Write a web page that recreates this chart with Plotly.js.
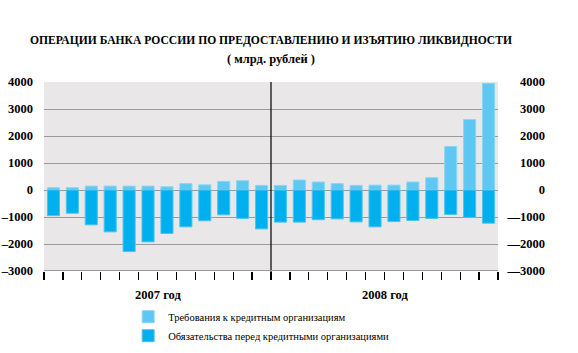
<!DOCTYPE html>
<html>
<head>
<meta charset="utf-8">
<script src="https://cdn.plot.ly/plotly-3.0.1.min.js"></script>
<style>html,body{margin:0;padding:0;background:#fff;}#chart{width:578px;height:353px;}</style>
</head>
<body>
<div id="chart"></div>
<script>
// Months: 2007 (12) + 2008 (12)
var periods = ["2007-01","2007-02","2007-03","2007-04","2007-05","2007-06","2007-07","2007-08","2007-09","2007-10","2007-11","2007-12",
               "2008-01","2008-02","2008-03","2008-04","2008-05","2008-06","2008-07","2008-08","2008-09","2008-10","2008-11","2008-12"];
// Требования к кредитным организациям (млрд. рублей)
var claims = [85, 85, 145, 145, 145, 145, 120, 235, 190, 320, 345, 170,
              170, 370, 295, 235, 170, 180, 180, 295, 455, 1610, 2610, 3950];
// Обязательства перед кредитными организациями (млрд. рублей)
var liabilities = [-950, -860, -1290, -1550, -2280, -1920, -1610, -1365, -1140, -920, -1050, -1440,
                   -1190, -1190, -1100, -1070, -1180, -1365, -1170, -1130, -1055, -905, -1020, -1230];
var yearLabels = ["2007 год", "2008 год"];
var yearCenters = [5.5, 17.5];
var yTickVals = [4000, 3000, 2000, 1000, 0, -1000, -2000, -3000];
var yTickTextLeft = ["4000", "3000", "2000", "1000", "0", "\u20131000", "\u20132000", "\u20133000"];
var yTickTextRight = ["4000", "3000", "2000", "1000", "0", "\u20141000", "\u20142000", "\u20143000"];
var seriesNames = ["Требования к кредитным организациям", "Обязательства перед кредитными организациями"];
var titleText = "ОПЕРАЦИИ БАНКА РОССИИ ПО ПРЕДОСТАВЛЕНИЮ И ИЗЪЯТИЮ ЛИКВИДНОСТИ";
var subtitleText = "( млрд. рублей )";

var idx = periods.map(function(p, i){ return i; });
var boundaries = [];
for (var b = 0; b <= periods.length; b++) boundaries.push(b - 0.5);
function bold(t){ return "<b>" + t + "</b>"; }

var serif = "'Liberation Serif', 'DejaVu Serif', serif";
var plotFrac = 454 / 504;

var traces = [
  {type: "bar", x: idx, y: claims, name: seriesNames[0], width: 0.64,
   marker: {color: "#5ec8f2", line: {color: "#8ad6f5", width: 1}}, hoverinfo: "y"},
  {type: "bar", x: idx, y: liabilities, name: seriesNames[1], width: 0.64,
   marker: {color: "#00b0ee", line: {color: "#4cc4f2", width: 1}}, hoverinfo: "y"},
  {type: "scatter", x: [0], y: [0], yaxis: "y2", mode: "markers", marker: {opacity: 0}, showlegend: false, hoverinfo: "skip"}
];

var annotations = yearLabels.map(function(t, i){
  return {text: bold(t), x: yearCenters[i], xref: "x", y: -0.177, yref: "paper",
          showarrow: false, font: {family: serif, size: 12.5, color: "#000"}};
});
annotations.push({text: bold(subtitleText), x: (271 - 44) / 504, xref: "paper", xanchor: "center",
  y: 1.122, yref: "paper", yanchor: "middle", showarrow: false, font: {family: serif, size: 12.5, color: "#000"}});

var layout = {
  width: 578, height: 353,
  margin: {l: 44, r: 30, t: 82, b: 82, autoexpand: false},
  paper_bgcolor: "#ffffff",
  plot_bgcolor: "#e9e7e7",
  barmode: "relative",
  showlegend: true,
  title: {text: bold(titleText),
          x: 271 / 578, xanchor: "center", y: 1 - 40 / 353, yanchor: "middle",
          font: {family: serif, size: 11.6, color: "#000"}},
  legend: {x: 0.167, xanchor: "left", y: -0.165, yanchor: "top", bgcolor: "rgba(0,0,0,0)",
           font: {family: serif, size: 10.5, color: "#000"}, tracegroupgap: 0, itemwidth: 30},
  xaxis: {domain: [0, plotFrac], range: [-0.5, periods.length - 0.5], tickvals: boundaries, ticktext: boundaries.map(function(){return "";}),
          ticks: "outside", ticklen: 8, tickcolor: "#000", tickwidth: 1.2, showgrid: false, zeroline: false,
          showline: false, fixedrange: true, automargin: false},
  yaxis: {range: [-3000, 4000], tickvals: yTickVals, ticktext: yTickTextLeft.map(bold), showgrid: true,
          gridcolor: "#9a9a9a", gridwidth: 1, zeroline: true, zerolinecolor: "#9a9a9a", zerolinewidth: 1,
          tickfont: {family: serif, size: 12.5, color: "#000"}, ticks: "", ticklabelstandoff: 10, fixedrange: true, automargin: false},
  yaxis2: {range: [-3000, 4000], overlaying: "y", side: "right", anchor: "free", position: 1,
          tickvals: yTickVals, ticktext: yTickTextRight.map(bold), ticklabelposition: "inside", ticklabeloverflow: "allow",
          showgrid: false, zeroline: false, showline: false, tickfont: {family: serif, size: 12.5, color: "#000"}, ticks: "",
          fixedrange: true, automargin: false},
  shapes: [
    {type: "line", xref: "x", yref: "paper", x0: 11.5, x1: 11.5, y0: -0.045, y1: 1,
     line: {color: "#000", width: 1.2}},
    {type: "line", xref: "x", yref: "y", x0: -0.5, x1: periods.length - 0.5, y0: -3000, y1: -3000,
     line: {color: "#9a9a9a", width: 2}}
  ],
  annotations: annotations
};

Plotly.newPlot("chart", traces, layout, {displayModeBar: false, staticPlot: true});
</script>
</body>
</html>
